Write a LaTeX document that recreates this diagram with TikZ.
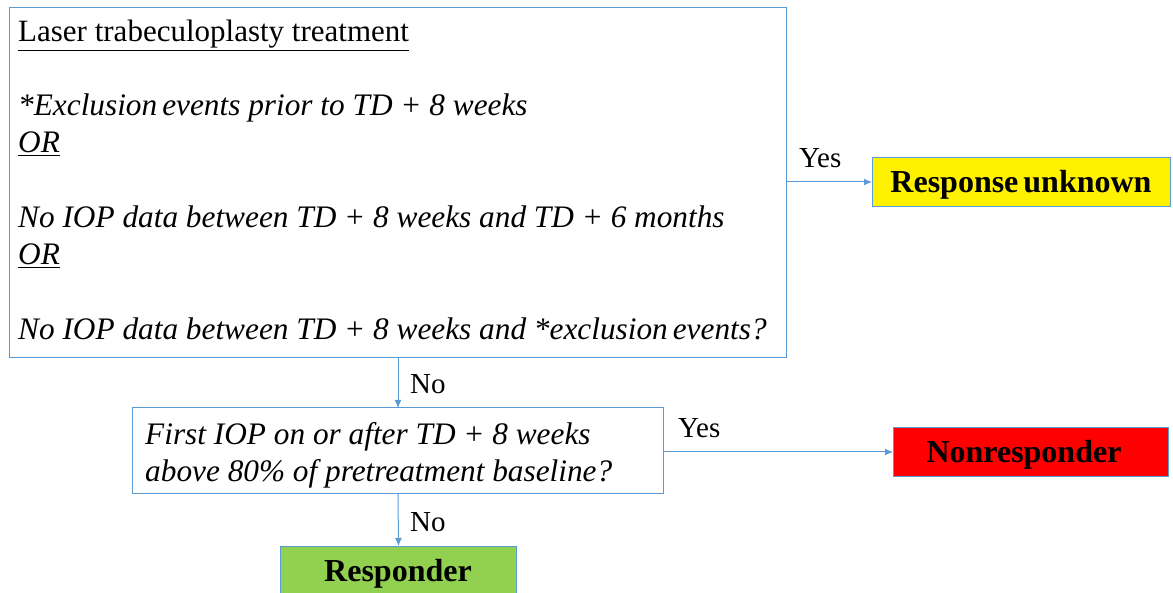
\documentclass[tikz,border=0pt]{standalone}
\usepackage{fontspec}
\setmainfont{Liberation Serif}
\usetikzlibrary{arrows.meta}
\definecolor{bord}{HTML}{5B9BD5}
\definecolor{resgreen}{HTML}{92D050}
\tikzset{
  box/.style={draw=bord, line width=1pt, inner sep=0pt},
  txt/.style={anchor=base west, inner sep=0pt, font=\fontsize{31}{37}\selectfont},
  itx/.style={txt, font=\fontsize{31.3}{37}\selectfont\itshape},
  lbl/.style={anchor=base west, inner sep=0pt, font=\fontsize{29}{34}\selectfont},
  btx/.style={anchor=base, inner sep=0pt, font=\fontsize{32}{38}\selectfont\bfseries},
  conn/.style={draw=bord, line width=1pt, -{Latex[length=8pt,width=7pt]}}
}
\begin{document}
\begin{tikzpicture}[x=1pt,y=-1pt]
\useasboundingbox (0,0) rectangle (1173,593);
\fill[white] (0,0) rectangle (1173,593);
% boxes
\draw[box] (9,8) rectangle (786,358);
\coordinate (mainR) at (786,182);
\coordinate (mainB) at (398,358);
\node[box, fill=yellow, minimum width=298pt, minimum height=49pt, anchor=north west] (unk) at (872,157) {};
\draw[box] (132,408) rectangle (663,493);
\coordinate (q2T) at (398,408);
\coordinate (q2R) at (663,452);
\coordinate (q2B) at (398,493);
\node[box, fill=red, minimum width=275pt, minimum height=49pt, anchor=north west] (non) at (893,427) {};
\node[box, fill=resgreen, minimum width=236pt, minimum height=52pt, anchor=north west] (resp) at (280,546) {};
% main box text
\node[txt] (t1) at (18,42) {\underline{Laser trabeculoplasty treatment}};
\node[itx] (t2) at (18,116) {*Exclusion\hspace{5pt}events prior to TD + 8 weeks};
\node[itx] (t3) at (18,153) {\underline{OR}};
\node[itx] (t4) at (18,228) {No IOP data between TD + 8 weeks and TD + 6 months};
\node[itx] (t5) at (18,265) {\underline{OR}};
\node[itx] (t6) at (18,340) {No IOP data between TD + 8 weeks and *exclusion\hspace{5pt}events?};
% second box text
\node[itx] (s1) at (145,445) {First IOP on or after TD + 8 weeks};
\node[itx] (s2) at (145,481) {above 80\% of pretreatment baseline?};
% outcome text
\node[btx] (unkT) at (1021,193) {Response\hspace{5pt}unknown};
\node[btx] (nonT) at (1024,462) {Nonresponder};
\node[btx] (respT) at (398,581) {Responder};
% connectors
\draw[conn] (mainR) -- (unk.west);
\draw[conn] (mainB) -- (q2T);
\draw[conn] (q2R) -- (non.west);
\draw[conn] (q2B) -- (resp.north);
% labels
\node[lbl] (y1) at (799,168) {Yes};
\node[lbl] (n1) at (410,394) {No};
\node[lbl] (y2) at (678,438) {Yes};
\node[lbl] (n2) at (410,531) {No};
\end{tikzpicture}
\end{document}
